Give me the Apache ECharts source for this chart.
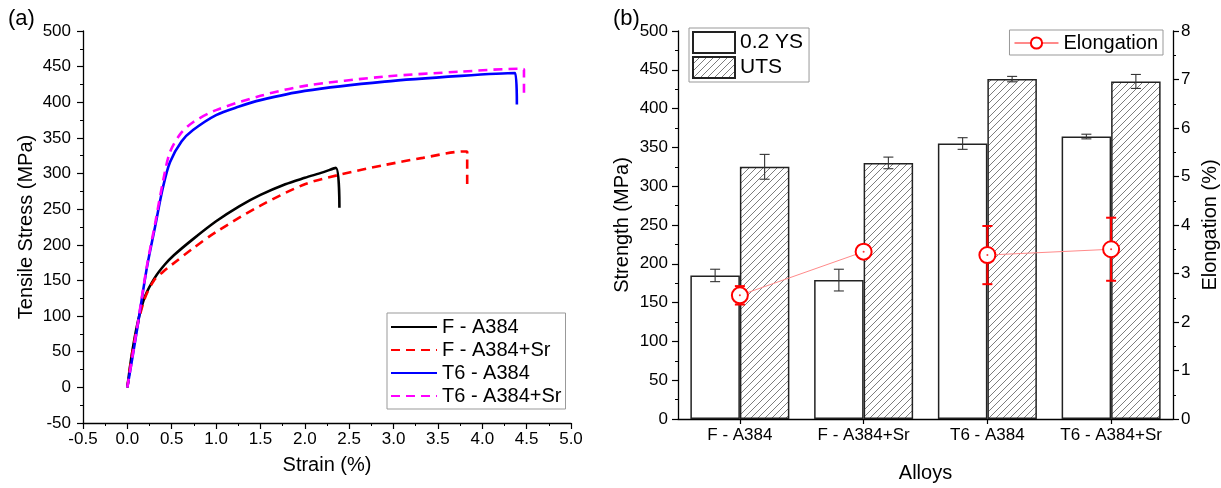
<!DOCTYPE html>
<html>
<head>
<meta charset="utf-8">
<script src="https://cdn.jsdelivr.net/npm/echarts@6/dist/echarts.min.js"></script>
<style>
  html, body { margin: 0; padding: 0; background: #fff; }
  #chart { width: 1221px; height: 488px; }
</style>
</head>
<body>
<div id="chart"></div>
<script>
// (a) tensile curves: [strain %, stress MPa]
const fA384 = [[0,0],[0.05,46],[0.12,93],[0.2,128],[0.31,154],[0.42,172],[0.53,186],[0.74,208],[1.0,233],[1.26,254],[1.5,270],[1.78,285],[2.0,294],[2.21,302],[2.35,308],[2.39,252]];
const fA384Sr = [[0,0],[0.05,44],[0.12,90],[0.2,126],[0.3,150],[0.4,162],[0.5,172],[0.74,195],[1.0,218],[1.5,255],[2.0,285],[2.38,298],[2.9,312],[3.33,322],[3.8,331],[3.83,331],[3.83,282]];
const t6A384 = [[0,0],[0.1,74],[0.22,168],[0.31,224],[0.4,280],[0.48,316],[0.61,345],[0.74,361],[1.0,382],[1.26,394],[1.5,403],[2.0,416],[2.9,429],[3.76,437],[4.37,441],[4.39,397]];
const t6A384Sr = [[0,0],[0.1,76],[0.22,170],[0.31,228],[0.4,288],[0.48,330],[0.6,356],[0.74,372],[1.0,389],[1.5,409],[2.0,423],[2.9,436],[3.76,443],[4.42,447],[4.47,446],[4.47,409]];

// (b) strength and elongation
const alloys = ['F - A384', 'F - A384+Sr', 'T6 - A384', 'T6 - A384+Sr'];
const ys = [185, 179, 355, 364];
const ysErr = [8, 14, 7.5, 3];
const uts = [325, 330, 438, 435];
const utsErr = [16, 7.5, 3.5, 9];
const elong = [2.55, 3.45, 3.38, 3.5];
const elongErr = [0.19, 0.13, 0.6, 0.65];

const FONT = 'Liberation Sans, Arial, sans-serif';

const hatch = () => {
   let c = document.createElement('canvas');
   c.width = 7; c.height = 7;
   let g = c.getContext('2d');
   g.fillStyle = '#fff';
   g.fillRect(0, 0, 7, 7);
   g.strokeStyle = '#6e6e6e';
   g.lineWidth = 0.9;
   g.beginPath();
   g.moveTo(0, 7); g.lineTo(7, 0);
   g.moveTo(-2, 2); g.lineTo(2, -2);
   g.moveTo(5, 9); g.lineTo(9, 5);
   g.stroke();
   return c;
}

const errorBars = (vals, errs, offset, color, width, cap) => ({
   type: 'custom',
   xAxisIndex: 1,
   yAxisIndex: offset === 0 ? 2 : 1,
   z: 10,
   silent: true,
   data: vals.map((v, i) => [i, v - errs[i], v + errs[i]]),
   renderItem: (params, api) => {
      let i = api.value(0);
      let lo = api.coord([i, api.value(1)]);
      let hi = api.coord([i, api.value(2)]);
      let x = lo[0] + offset * api.size([1, 0])[0];
      let st = { stroke: color, lineWidth: width };
      return {
         type: 'group',
         children: [
            { type: 'line', shape: { x1: x, y1: lo[1], x2: x, y2: hi[1] }, style: st },
            { type: 'line', shape: { x1: x - cap, y1: lo[1], x2: x + cap, y2: lo[1] }, style: st },
            { type: 'line', shape: { x1: x - cap, y1: hi[1], x2: x + cap, y2: hi[1] }, style: st }
         ]
      };
   }
});

// elongation is joined only within F and within T6 pairs
const elongF = elong.map((v, i) => i < 2 ? v : '-');
const elongT6 = elong.map((v, i) => i >= 2 ? v : '-');
const elongLine = (data) => ({
   name: 'Elongation', type: 'line', xAxisIndex: 1, yAxisIndex: 2, data, z: 12,
   symbol: 'emptyCircle', symbolSize: 16,
   lineStyle: { color: '#ff8a8a', width: 1 },
   itemStyle: { color: '#ff0000', borderColor: '#ff0000', borderWidth: 1.2 }
});

const axisCommon = {
   axisLine: { show: true, onZero: false, lineStyle: { color: '#000', width: 1.3 } },
   axisTick: { show: true, length: 6, lineStyle: { color: '#000', width: 1.2 } },
   minorTick: { show: true, splitNumber: 2, length: 3, lineStyle: { color: '#000', width: 1 } },
   splitLine: { show: false },
   axisLabel: { color: '#000', fontSize: 17, fontFamily: FONT },
   nameTextStyle: { color: '#000', fontSize: 20, fontFamily: FONT },
   nameLocation: 'middle'
};

const legendText = { fontSize: 20, color: '#000', fontFamily: FONT };

let chart = echarts.init(document.getElementById('chart'), null, { renderer: 'canvas' });

let option = {
   animation: false,
   backgroundColor: '#fff',
   title: [
      { text: '(a)', left: 3, top: 3, textStyle: { fontSize: 22, fontWeight: 'normal', color: '#000', fontFamily: FONT } },
      { text: '(b)', left: 608, top: 3, textStyle: { fontSize: 22, fontWeight: 'normal', color: '#000', fontFamily: FONT } }
   ],
   grid: [
      { left: 83, right: 650, top: 31, bottom: 65 },
      { left: 678, right: 48, top: 31, bottom: 65 }
   ],
   legend: [
      {
         data: ['F - A384', 'F - A384+Sr', 'T6 - A384', 'T6 - A384+Sr'],
         orient: 'vertical',
         left: 387, top: 313,
         itemWidth: 46, itemHeight: 14, itemGap: 3,
         padding: [4, 4, 3, 3],
         itemStyle: { opacity: 0 },
         borderColor: '#999', borderWidth: 1, borderRadius: 0,
         textStyle: legendText
      },
      {
         data: ['0.2 YS', 'UTS'],
         orient: 'vertical',
         left: 689, top: 28,
         icon: 'rect',
         itemWidth: 42, itemHeight: 21, itemGap: 2,
         padding: [3, 6, 3, 3],
         borderColor: '#999', borderWidth: 1, borderRadius: 0,
         textStyle: { fontSize: 21, color: '#000', fontFamily: FONT }
      },
      {
         data: ['Elongation'],
         right: 58, top: 30,
         itemWidth: 44, itemHeight: 14,
         padding: [3, 5, 2, 4],
         borderColor: '#999', borderWidth: 1, borderRadius: 0,
         textStyle: legendText
      }
   ],
   xAxis: [
      Object.assign({}, axisCommon, {
         gridIndex: 0, type: 'value', min: -0.5, max: 5, interval: 0.5,
         name: 'Strain (%)', nameGap: 32,
         axisLabel: Object.assign({}, axisCommon.axisLabel, { formatter: v => v.toFixed(1), margin: 8 })
      }),
      Object.assign({}, axisCommon, {
         gridIndex: 1, type: 'category', data: alloys,
         name: 'Alloys', nameGap: 44,
         axisTick: { show: true, alignWithLabel: true, length: 5, lineStyle: { color: '#000', width: 1.2 } },
         minorTick: { show: false },
         axisLabel: Object.assign({}, axisCommon.axisLabel, { margin: 8, interval: 0 })
      })
   ],
   yAxis: [
      Object.assign({}, axisCommon, {
         gridIndex: 0, type: 'value', min: -50, max: 500, interval: 50,
         name: 'Tensile Stress (MPa)', nameGap: 47,
         axisLabel: Object.assign({}, axisCommon.axisLabel, { margin: 12 })
      }),
      Object.assign({}, axisCommon, {
         gridIndex: 1, type: 'value', min: 0, max: 500, interval: 50,
         name: 'Strength (MPa)', nameGap: 46,
         axisLabel: Object.assign({}, axisCommon.axisLabel, { margin: 10 })
      }),
      Object.assign({}, axisCommon, {
         gridIndex: 1, type: 'value', min: 0, max: 8, interval: 1, position: 'right',
         name: 'Elongation (%)', nameGap: 27, nameRotate: 90,
         axisLabel: Object.assign({}, axisCommon.axisLabel, { margin: 8 })
      })
   ],
   series: [
      { name: 'F - A384', type: 'line', xAxisIndex: 0, yAxisIndex: 0, data: fA384, symbol: 'none', smooth: 0.3,
        lineStyle: { color: '#000', width: 2.6 }, itemStyle: { color: '#000' } },
      { name: 'F - A384+Sr', type: 'line', xAxisIndex: 0, yAxisIndex: 0, data: fA384Sr, symbol: 'none', smooth: 0.3,
        lineStyle: { color: '#ff0000', width: 2.6, type: [9, 6] }, itemStyle: { color: '#ff0000' } },
      { name: 'T6 - A384', type: 'line', xAxisIndex: 0, yAxisIndex: 0, data: t6A384, symbol: 'none', smooth: 0.3,
        lineStyle: { color: '#0000ff', width: 2.6 }, itemStyle: { color: '#0000ff' } },
      { name: 'T6 - A384+Sr', type: 'line', xAxisIndex: 0, yAxisIndex: 0, data: t6A384Sr, symbol: 'none', smooth: 0.3,
        lineStyle: { color: '#ff00ff', width: 2.6, type: [9, 6] }, itemStyle: { color: '#ff00ff' } },
      { name: '0.2 YS', type: 'bar', xAxisIndex: 1, yAxisIndex: 1, data: ys,
        barGap: 0, barCategoryGap: '20%',
        itemStyle: { color: '#fff', borderColor: '#222', borderWidth: 1.5 } },
      { name: 'UTS', type: 'bar', xAxisIndex: 1, yAxisIndex: 1, data: uts,
        barGap: 0, barCategoryGap: '20%',
        itemStyle: { color: { image: hatch(), repeat: 'repeat' }, borderColor: '#222', borderWidth: 1.5 } },
      errorBars(ys, ysErr, -0.2, '#333', 1.1, 5),
      errorBars(uts, utsErr, 0.2, '#333', 1.1, 5),
      errorBars(elong, elongErr, 0, '#ff0000', 2, 5),
      elongLine(elongF),
      elongLine(elongT6),
      { type: 'scatter', xAxisIndex: 1, yAxisIndex: 2, data: elong, z: 13, silent: true,
        symbol: 'circle', symbolSize: 2, itemStyle: { color: '#ff0000' } }
   ]
};
chart.setOption(option);
</script>
</body>
</html>
